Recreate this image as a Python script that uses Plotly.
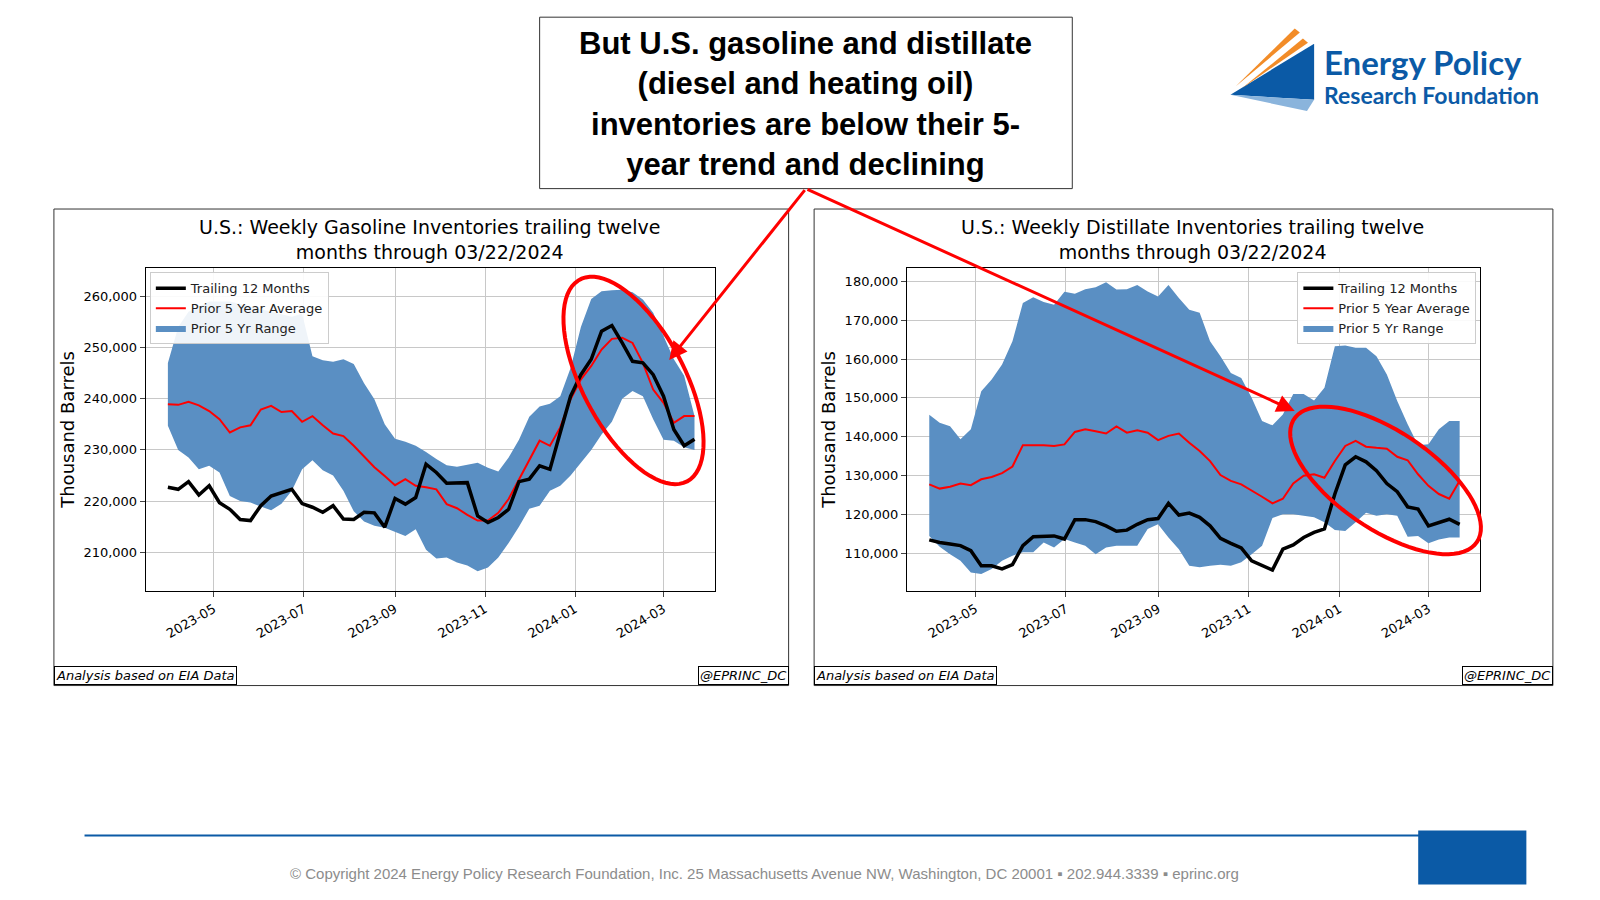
import numpy as np
import pandas as pd
import plotly.graph_objects as go

# weekly dates, trailing twelve months through 03/22/2024
dates = pd.date_range("2023-03-31", "2024-03-22", freq="7D")

# gasoline, thousand barrels
gas_ttm = [222.7, 222.3, 223.8, 221.2, 223.0, 219.7, 218.4, 216.4, 216.2, 219.1, 221.0, 221.7, 222.3,
           219.5, 218.8, 217.8, 219.1, 216.5, 216.4, 217.8, 217.7, 214.9, 220.5, 219.4, 220.7, 227.2,
           225.6, 223.5, 223.5, 223.6, 217.1, 215.8, 216.8, 218.4, 223.8, 224.3, 226.9, 226.2, 233.4,
           240.5, 244.7, 247.7, 253.2, 254.3, 250.9, 247.3, 247.0, 244.7, 240.5, 234.0, 230.8, 232.1]
gas_avg = [238.9, 238.8, 239.4, 238.7, 237.6, 236.0, 233.4, 234.4, 234.8, 237.9, 238.6, 237.4, 237.6,
           235.5, 236.6, 234.8, 233.2, 232.7, 230.8, 228.8, 226.6, 224.9, 223.1, 224.3, 223.0, 222.7,
           222.3, 219.4, 218.6, 217.3, 216.2, 216.2, 217.7, 220.4, 224.3, 228.2, 231.8, 230.8, 234.4,
           239.9, 243.8, 246.4, 249.6, 251.7, 251.9, 250.9, 247.0, 241.8, 239.2, 235.3, 236.6, 236.6]
gas_hi = [247, 254, 257, 258, 259, 259, 259, 258.5, 258, 257.5, 257, 256.5, 256, 256.6, 248.3,
          247.5, 247.2, 247.7, 246.8, 243, 239.9, 235, 232.2, 231.6, 230.8, 229.6, 228.2, 227, 226.7,
          227.1, 227.5, 226.5, 225.8, 228.5, 232, 236.5, 238.5, 239, 240.5, 246, 254, 259.5, 261,
          261.2, 261.3, 260.8, 259.4, 256.8, 252.2, 247.7, 244.5, 236.6]
gas_lo = [234.7, 230, 228.5, 226.2, 226.9, 225.6, 221, 220, 219.7, 219, 218.2, 219.5, 222, 226.2,
          228, 226, 225, 222, 218, 216, 215.2, 214.8, 214, 213.2, 214.5, 210.5, 208.8, 209, 208,
          207.4, 206.3, 207, 209, 211.8, 215, 218.5, 219.1, 222, 223, 225, 227.5, 230, 233, 235.5,
          240, 241.5, 240.5, 236, 232, 231.8, 230.5, 230]

# distillate, thousand barrels
dist_ttm = [113.4, 112.7, 112.3, 111.9, 110.6, 106.7, 106.7, 105.9, 107.0, 111.9, 114.2, 114.4, 114.4,
            113.6, 118.6, 118.6, 118.1, 117.0, 115.6, 115.9, 117.4, 118.6, 118.9, 122.8, 119.8, 120.3,
            119.2, 117.0, 113.8, 112.5, 111.3, 108.0, 106.7, 105.6, 111.0, 112.1, 114.0, 115.3, 116.2,
            125.2, 132.7, 134.8, 133.5, 131.2, 127.9, 125.8, 121.9, 121.3, 117.0, 117.9, 118.7, 117.4]
dist_avg = [127.7, 126.6, 127.1, 127.9, 127.5, 129.0, 129.6, 130.6, 132.3, 137.8, 137.8, 137.8, 137.6,
            138.0, 141.2, 141.9, 141.4, 140.8, 142.6, 141.0, 141.6, 141.0, 139.1, 140.2, 140.8, 138.4,
            136.3, 133.7, 130.1, 128.6, 127.7, 126.2, 124.5, 122.8, 124.0, 127.9, 129.9, 130.3, 129.4,
            133.7, 137.6, 138.9, 137.4, 137.1, 136.9, 134.8, 133.9, 130.3, 127.3, 125.2, 124.0, 128.6]
dist_hi = [145.6, 143.6, 142.7, 139.3, 141.9, 151.7, 154.7, 158.6, 164.6, 174.4, 175.9, 174.7, 174.0,
           177.3, 176.8, 178.0, 178.5, 179.8, 177.9, 178.0, 179.1, 177.4, 176.1, 179.1, 175.7, 172.7,
           171.9, 164.6, 160.7, 156.4, 155.1, 150.0, 144.0, 142.9, 145.7, 151.0, 151.0, 149.3, 152.6,
           163.3, 163.5, 162.9, 162.9, 160.7, 156.0, 149.2, 143.2, 137.8, 138.0, 141.9, 144.0, 144.0]
dist_lo = [114.4, 111.6, 109.7, 108.0, 105.0, 104.6, 105.9, 108.0, 109.3, 110.2, 110.2, 112.7, 111.4,
           113.6, 112.7, 111.9, 109.7, 111.4, 111.9, 111.9, 111.9, 116.2, 117.4, 114.0, 111.0, 106.7,
           106.3, 106.7, 107.0, 106.7, 107.6, 109.7, 111.9, 119.0, 120.0, 120.0, 119.6, 119.2, 117.9,
           115.9, 115.7, 117.9, 120.4, 119.6, 120.0, 119.6, 114.2, 114.4, 112.5, 113.5, 114.0, 114.0]

W, H = 1600, 900
S = 0.98  # layout positions below are measured on the reference view
OFF = 7
def px(x): return (x - OFF) / (W * S)
def py(y): return 1 - (y - OFF) / (H * S)

BAND = "#5a8fc3"
fig = go.Figure()

def add_panel(xa, ya, leg, ttm, avg, hi, lo):
    k = lambda v: [x * 1000 for x in v]
    fig.add_trace(go.Scatter(x=dates, y=k(lo), mode="lines", line=dict(width=0, color=BAND),
                             showlegend=False, hoverinfo="skip", xaxis=xa, yaxis=ya))
    fig.add_trace(go.Scatter(x=dates, y=k(hi), mode="lines", line=dict(width=0, color=BAND),
                             fill="tonexty", fillcolor=BAND, name="Prior 5 Yr Range",
                             legend=leg, legendrank=3, xaxis=xa, yaxis=ya))
    fig.add_trace(go.Scatter(x=dates, y=k(avg), mode="lines", line=dict(color="red", width=2),
                             name="Prior 5 Year Average", legend=leg, legendrank=2, xaxis=xa, yaxis=ya))
    fig.add_trace(go.Scatter(x=dates, y=k(ttm), mode="lines", line=dict(color="black", width=3.5),
                             name="Trailing 12 Months", legend=leg, legendrank=1, xaxis=xa, yaxis=ya))

add_panel("x", "y", "legend", gas_ttm, gas_avg, gas_hi, gas_lo)
add_panel("x2", "y2", "legend2", dist_ttm, dist_avg, dist_hi, dist_lo)

tickvals = pd.to_datetime(["2023-05-01", "2023-07-01", "2023-09-01", "2023-11-01", "2024-01-01", "2024-03-01"])
ticktext = ["2023-05", "2023-07", "2023-09", "2023-11", "2024-01", "2024-03"]
xcommon = dict(tickvals=tickvals, ticktext=ticktext, tickangle=-30, showgrid=True, gridcolor="#c8c8c8",
               showline=True, linecolor="black", mirror=True, ticks="outside", tickfont=dict(size=13),
               range=[pd.Timestamp("2023-03-16"), pd.Timestamp("2024-04-05")], zeroline=False)
ycommon = dict(showgrid=True, gridcolor="#c8c8c8", showline=True, linecolor="black", mirror=True,
               ticks="outside", tickformat=",d", tickfont=dict(size=13), zeroline=False,
               title=dict(text="Thousand Barrels", font=dict(size=18), standoff=4))

legcommon = dict(bgcolor="rgba(255,255,255,0.9)", bordercolor="#cccccc", borderwidth=1,
                 font=dict(size=13, color="#222"), tracegroupgap=0, traceorder="normal")

fig.update_layout(
    width=W, height=H, margin=dict(l=0, r=0, t=0, b=0),
    plot_bgcolor="white", paper_bgcolor="white",
    font=dict(family="DejaVu Sans", color="black"),
    xaxis=dict(domain=[px(142), px(700)], anchor="y", **xcommon),
    yaxis=dict(domain=[py(578), py(262)], anchor="x", range=[202500, 265500],
               tickvals=[210000, 220000, 230000, 240000, 250000, 260000], **ycommon),
    xaxis2=dict(domain=[px(888), px(1450)], anchor="y2", **xcommon),
    yaxis2=dict(domain=[py(578), py(262)], anchor="x2", range=[100300, 183400],
                tickvals=[110000, 120000, 130000, 140000, 150000, 160000, 170000, 180000], **ycommon),
    legend=dict(x=px(146), y=py(266), xanchor="left", yanchor="top", **legcommon),
    legend2=dict(x=px(1446), y=py(266), xanchor="right", yanchor="top", **legcommon),
)

shapes = []
# panel frames
for x0, x1 in [(52, 772), (797, 1521)]:
    shapes.append(dict(type="rect", xref="paper", yref="paper", x0=px(x0), x1=px(x1), y0=py(671), y1=py(204),
                       line=dict(color="#333", width=1)))
# callout box
shapes.append(dict(type="rect", xref="paper", yref="paper", x0=px(528), x1=px(1050), y0=py(184), y1=py(16),
                   line=dict(color="#333", width=1), fillcolor="white"))
# footer line and block
shapes.append(dict(type="line", xref="paper", yref="paper", x0=px(82), x1=px(1390), y0=py(818), y1=py(818),
                   line=dict(color="#0b5aa6", width=2)))
shapes.append(dict(type="rect", xref="paper", yref="paper", x0=px(1389), x1=px(1495), y0=py(866), y1=py(813),
                   line=dict(width=0), fillcolor="#0b5aa6"))
# logo triangles
shapes.append(dict(type="path", xref="paper", yref="paper",
                   path=f"M{px(1205)},{py(92)} L{px(1287)},{py(42)} L{px(1287)},{py(97)} Z",
                   fillcolor="#0b5aa6", line=dict(width=0)))
shapes.append(dict(type="path", xref="paper", yref="paper",
                   path=f"M{px(1205)},{py(92)} L{px(1287)},{py(97)} L{px(1280)},{py(108)} Z",
                   fillcolor="#8ab4dc", line=dict(width=0)))
for (a, b, c) in [((1210, 84), (1268, 27), (1273, 31)), ((1216, 86), (1276, 37), (1281, 41))]:
    shapes.append(dict(type="path", xref="paper", yref="paper",
                       path=f"M{px(a[0])},{py(a[1])} L{px(b[0])},{py(b[1])} L{px(c[0])},{py(c[1])} Z",
                       fillcolor="#f28c28", line=dict(width=0)))

# red ellipses (annotation marks)
def ellipse(cx, cy, rx, ry, ang):
    t = np.linspace(0, 2 * np.pi, 80)
    a = np.deg2rad(ang)
    xs = cx + rx * np.cos(t) * np.cos(a) - ry * np.sin(t) * np.sin(a)
    ys = cy + rx * np.cos(t) * np.sin(a) + ry * np.sin(t) * np.cos(a)
    return "M" + " L".join(f"{px(x)},{py(y)}" for x, y in zip(xs, ys)) + " Z"

shapes.append(dict(type="path", xref="paper", yref="paper", path=ellipse(620, 372, 112, 50, 62),
                   line=dict(color="red", width=4)))
shapes.append(dict(type="path", xref="paper", yref="paper", path=ellipse(1357, 470, 108, 48, 34),
                   line=dict(color="red", width=4)))
fig.update_layout(shapes=shapes)

ann = []
ann.append(dict(text="<b>But U.S. gasoline and distillate<br>(diesel and heating oil)<br>inventories are below their 5-<br>year trend and declining</b>",
                x=px(789), y=py(101), xref="paper", yref="paper", showarrow=False,
                xanchor="center", yanchor="middle",
                font=dict(size=31, family="Liberation Sans", color="black")))
for tx, xc in [("U.S.: Weekly Gasoline Inventories trailing twelve<br>months through 03/22/2024", 421),
               ("U.S.: Weekly Distillate Inventories trailing twelve<br>months through 03/22/2024", 1168)]:
    ann.append(dict(text=tx, x=px(xc), y=py(234), xref="paper", yref="paper", showarrow=False,
                    font=dict(size=19), xanchor="center", yanchor="middle"))
for xl, xr in [(52, 772), (797, 1521)]:
    ann.append(dict(text="<i>Analysis based on EIA Data</i>", x=px(xl), y=py(661), xref="paper", yref="paper",
                    xanchor="left", yanchor="middle", showarrow=False, font=dict(size=13),
                    bordercolor="black", borderwidth=1, borderpad=1, bgcolor="white"))
    ann.append(dict(text="<i>@EPRINC_DC</i>", x=px(xr), y=py(661), xref="paper", yref="paper",
                    xanchor="right", yanchor="middle", showarrow=False, font=dict(size=13),
                    bordercolor="black", borderwidth=1, borderpad=1, bgcolor="white"))
# arrows from the callout box
for tx, ty in [(655, 352), (1268, 402)]:
    ann.append(dict(x=px(tx), y=py(ty), ax=(789 - tx) / S, ay=(184 - ty) / S, xref="paper", yref="paper",
                    axref="pixel", ayref="pixel", showarrow=True, arrowhead=2, arrowsize=1.2,
                    arrowwidth=3, arrowcolor="red", text=""))
ann.append(dict(text="<b>Energy Policy</b>", x=px(1295), y=py(60), xref="paper", yref="paper", xanchor="left",
                yanchor="middle", showarrow=False, font=dict(size=33, color="#0b5aa6", family="Lato")))
ann.append(dict(text="<b>Research Foundation</b>", x=px(1295), y=py(92), xref="paper", yref="paper",
                xanchor="left", yanchor="middle", showarrow=False,
                font=dict(size=23, color="#0b5aa6", family="Lato")))
ann.append(dict(text="© Copyright 2024 Energy Policy Research Foundation, Inc. 25 Massachusetts Avenue NW, Washington, DC 20001 ▪ 202.944.3339 ▪ eprinc.org",
                x=px(748), y=py(855), xref="paper", yref="paper", showarrow=False,
                xanchor="center", yanchor="middle",
                font=dict(size=15, color="#8c8c8c", family="Liberation Sans")))
fig.update_layout(annotations=ann)

fig.write_html("out.html")
